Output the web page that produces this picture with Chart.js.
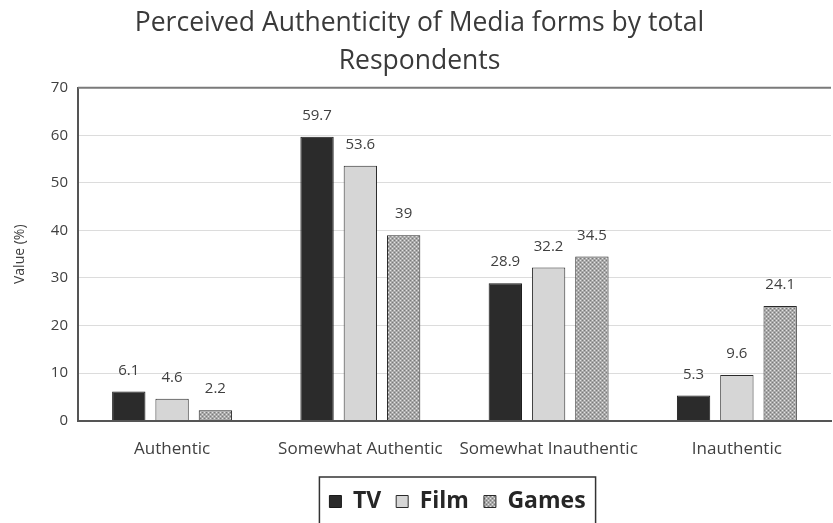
<!DOCTYPE html>
<html>
<head>
<meta charset="utf-8">
<script src="https://cdn.jsdelivr.net/npm/chart.js@4.4.1/dist/chart.umd.min.js"></script>
<style>
  html, body { margin: 0; padding: 0; background: #fff; }
  #wrap { width: 833px; height: 523px; }
</style>
</head>
<body>
<div id="wrap"><canvas id="chart"></canvas></div>
<script>
// Données du graphique
const categories = ['Authentic', 'Somewhat Authentic', 'Somewhat Inauthentic', 'Inauthentic'];
const tvValues = [6.1, 59.7, 28.9, 5.3];
const filmValues = [4.6, 53.6, 32.2, 9.6];
const gamesValues = [2.2, 39, 34.5, 24.1];
const yMax = 70;
const yStep = 10;

const FONT = "'Open Sans', sans-serif";
const LEGEND_SHIFT = 38;

// Motif pointillé pour "Games"
const makePattern = () => {
  const c = document.createElement('canvas');
  c.width = 4; c.height = 4;
  const g = c.getContext('2d');
  g.fillStyle = '#a9a9a9';
  g.fillRect(0, 0, 4, 4);
  g.fillStyle = '#e2e2e2';
  g.fillRect(0, 0, 1, 1);
  g.fillRect(2, 2, 1, 1);
  g.fillStyle = '#7a7a7a';
  g.fillRect(2, 0, 1, 1);
  g.fillRect(0, 2, 1, 1);
  return g.createPattern(c, 'repeat');
};
const gamesPattern = makePattern();

// Étiquettes de valeur au-dessus des barres
const valueLabels = {
  id: 'valueLabels',
  afterDatasetsDraw(chart) {
    const { ctx } = chart;
    ctx.save();
    ctx.font = `15px ${FONT}`;
    ctx.fillStyle = '#404040';
    ctx.textAlign = 'center';
    ctx.textBaseline = 'middle';
    chart.data.datasets.forEach((ds, i) => {
      chart.getDatasetMeta(i).data.forEach((bar, j) => {
        ctx.fillText(String(ds.data[j]), bar.x, bar.y - 21);
      });
    });
    ctx.restore();
  },
};

// Légende décalée vers la droite comme dans l'original
const legendShift = {
  id: 'legendShift',
  afterLayout(chart) {
    const lg = chart.legend;
    lg.left += LEGEND_SHIFT;
    lg.right += LEGEND_SHIFT;
    lg.legendHitBoxes?.forEach((b) => { b.left += LEGEND_SHIFT; });
  },
};

// Cadre de la légende + bordure haute de la zone
const frames = {
  id: 'frames',
  afterDraw(chart) {
    const { ctx, legend, chartArea: a } = chart;
    ctx.save();
    ctx.strokeStyle = '#7a7a7a';
    ctx.lineWidth = 2;
    ctx.beginPath();
    ctx.moveTo(a.left, a.top);
    ctx.lineTo(a.right, a.top);
    ctx.stroke();
    const boxes = legend.legendHitBoxes;
    if (boxes?.length) {
      const l = Math.min(...boxes.map((b) => b.left)) - 10;
      const r = Math.max(...boxes.map((b) => b.left + b.width)) + 10;
      ctx.strokeStyle = '#333';
      ctx.lineWidth = 1.5;
      ctx.strokeRect(l, legend.top + 2, r - l, legend.height + 20);
    }
    ctx.restore();
  },
};

new Chart(document.getElementById('chart'), {
  type: 'bar',
  data: {
    labels: categories,
    datasets: [
      { label: 'TV', data: tvValues, backgroundColor: '#2b2b2b', borderColor: '#1a1a1a', borderWidth: 1 },
      { label: 'Film', data: filmValues, backgroundColor: '#d6d6d6', borderColor: '#2a2a2a', borderWidth: 1 },
      { label: 'Games', data: gamesValues, backgroundColor: gamesPattern, borderColor: '#2a2a2a', borderWidth: 1 },
    ],
  },
  options: {
    responsive: true,
    maintainAspectRatio: false,
    animation: false,
    layout: { padding: { left: 8, right: 2, top: 4, bottom: 0 } },
    datasets: { bar: { categoryPercentage: 0.69, barPercentage: 0.77 } },
    plugins: {
      title: {
        display: true,
        text: ['Perceived Authenticity of Media forms by total', 'Respondents'],
        font: { family: FONT, size: 26.5, weight: 'normal', lineHeight: 1.45 },
        color: '#3a3a3a',
        padding: { top: 0, bottom: 7 },
      },
      legend: {
        position: 'bottom',
        labels: {
          font: { family: FONT, size: 23, weight: 'bold' },
          color: '#262626',
          boxWidth: 12,
          boxHeight: 12,
          padding: 15,
        },
      },
      tooltip: { enabled: false },
    },
    scales: {
      x: {
        grid: { display: false },
        border: { color: '#555', width: 2 },
        ticks: { font: { family: FONT, size: 17 }, color: '#404040', padding: 10, maxRotation: 0 },
        afterFit: (s) => { s.height += 6; },
      },
      y: {
        min: 0,
        max: yMax,
        ticks: { stepSize: yStep, font: { family: FONT, size: 15 }, color: '#404040', padding: 10 },
        grid: { color: '#dcdcdc', drawTicks: false },
        border: { color: '#555', width: 2 },
        title: { display: true, text: 'Value (%)', font: { family: FONT, size: 14 }, color: '#404040', padding: { bottom: 12 } },
      },
    },
  },
  plugins: [valueLabels, legendShift, frames],
});
</script>
</body>
</html>
